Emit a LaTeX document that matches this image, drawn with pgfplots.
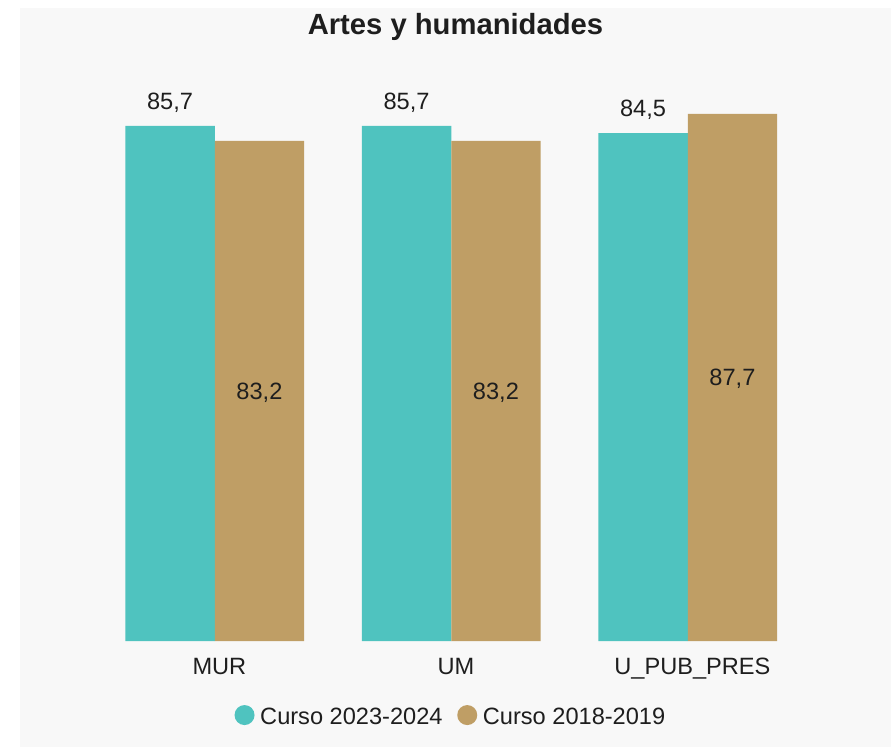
\documentclass[border=0pt]{standalone}
\usepackage{pgfplots}
\pgfplotsset{compat=1.18}
\usepackage{fontspec}
\setmainfont{Liberation Sans}
\definecolor{cteal}{RGB}{79,195,191}
\definecolor{ctan}{RGB}{191,158,101}
\definecolor{bg}{RGB}{248,248,248}
\definecolor{txt}{RGB}{30,30,30}
\newcommand{\lf}{\fontsize{17.7pt}{21pt}\selectfont}
\begin{document}
\begin{tikzpicture}
\fill[white] (0,0) rectangle (671.25pt,-560.25pt);
\fill[bg] (15pt,-6pt) rectangle (668.25pt,-560.25pt);
\node[font=\bfseries\fontsize{21.9pt}{26pt}\selectfont, text=txt, anchor=center] at (341.6pt,-20.5pt) {Artes y humanidades};
\begin{axis}[
  at={(72.375pt,-480.75pt)}, anchor=south west,
  scale only axis, width=532.125pt, height=450.75pt,
  xmin=-0.5, xmax=2.5, ymin=0, ymax=100,
  axis line style={draw=none},
  ytick=\empty,
  xtick={0,1,2},
  xticklabels={MUR,UM,U\_PUB\_PRES},
  xtick style={draw=none},
  major tick length=0pt,
  xticklabel style={font=\lf, text=txt, anchor=base, yshift=-24.75pt, xshift=3.5pt},
  clip=false,
  legend columns=2,
  legend style={at={(0.5,0)}, anchor=center, yshift=-57pt, draw=none, fill=none, font=\lf, text=txt,
    /tikz/every even column/.append style={column sep=9pt}},
]
\addplot[ybar, fill=cteal, draw=none, bar width=0.378, bar shift=0pt,
  nodes near coords, point meta=explicit symbolic,
  every node near coord/.append style={anchor=base, yshift=12.5pt, font=\lf, text=txt},
  legend image code/.code={\fill[cteal] (0pt,1.5pt) circle (7.5pt); \path (9.75pt,0pt);}]
  coordinates {(-0.189,85.7)[85,7] (0.811,85.7)[85,7] (1.811,84.5)[84,5]};
\addlegendentry{Curso 2023-2024}
\addplot[ybar, fill=ctan, draw=none, bar width=0.378, bar shift=0pt,
  legend image code/.code={\fill[ctan] (0pt,1.5pt) circle (7.5pt); \path (9.75pt,0pt);}]
  coordinates {(0.189,83.2) (1.189,83.2) (2.189,87.7)};
\addlegendentry{Curso 2018-2019}
\addplot[only marks, mark=none, forget plot,
  nodes near coords, point meta=explicit symbolic,
  every node near coord/.append style={anchor=base, yshift=-6.3pt, font=\lf, text=txt}]
  coordinates {(0.189,41.6)[83,2] (1.189,41.6)[83,2] (2.189,43.85)[87,7]};
\end{axis}
\end{tikzpicture}
\end{document}
